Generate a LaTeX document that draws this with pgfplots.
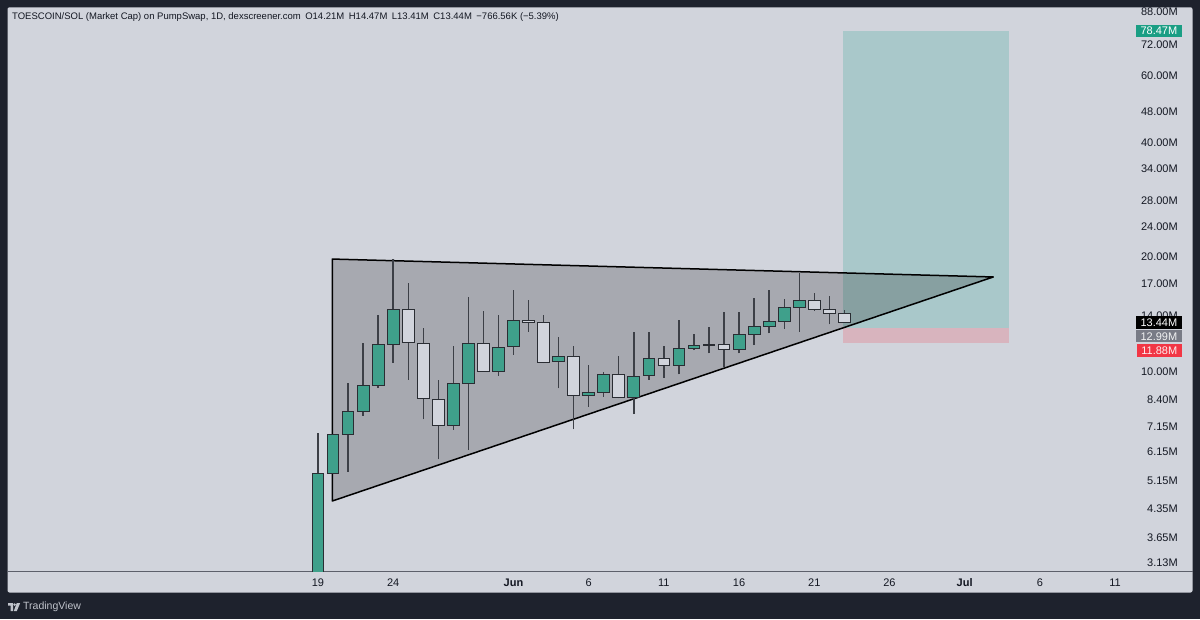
\documentclass[border=0pt]{standalone}
\usepackage{pgfplots}
\pgfplotsset{compat=1.18}
\usepackage{pgfplotstable}
\usepackage{fontspec}
\setmainfont{Liberation Sans}
\definecolor{tvdark}{HTML}{1E222D}
\definecolor{tvpanel}{HTML}{D1D4DC}
\definecolor{tvgreen}{HTML}{3FA08B}
\definecolor{tvtext}{HTML}{131722}
\definecolor{boxgreen}{HTML}{A9C8CA}
\definecolor{boxred}{HTML}{D8B4BE}
\definecolor{tagteal}{HTML}{1A9E84}
\definecolor{taggray}{HTML}{787B86}
\definecolor{tagred}{HTML}{F23645}
\definecolor{wickc}{HTML}{3C3F46}
\definecolor{edgec}{HTML}{2A2D33}
\definecolor{sepline}{HTML}{5D606B}
\definecolor{logoc}{HTML}{C0C3CB}

% OHLC in millions; d = days since 19 May
\pgfplotstableread{
d  o      h      l      c      t
0  2.00   6.89   1.00   5.39   g
1  5.39   6.83   5.39   6.83   g
2  6.83   9.33   5.44   7.83   g
3  7.83   11.84  7.64   9.16   g
4  9.16   14.06  9.05   11.77  g
5  11.77  19.70  10.53  14.55  g
6  14.55  17.09  9.49   11.89  w
7  11.84  12.97  7.48   8.49   w
8  8.45   9.49   5.87   7.22   w
9  7.22   11.65  7.01   9.30   g
10 9.30   15.70  6.21   11.84  g
11 11.84  14.40  9.97   9.97   w
12 9.97   14.06  9.74   11.56  g
13 11.60  16.35  11.04  13.64  g
14 13.64  15.39  12.71  13.45  w
15 13.43  14.06  10.50  10.56  w
16 10.60  12.33  9.02   10.97  g
17 10.97  11.65  7.04   8.66   w
18 8.66   10.39  8.07   8.78   g
19 8.80   9.97   8.57   9.84   g
20 9.84   10.97  8.49   8.54   w
21 8.54   12.66  7.72   9.72   g
22 9.74   12.68  9.49   10.82  g
23 10.82  11.67  9.62   10.34  w
24 10.34  13.64  9.82   11.49  g
25 11.49  12.53  11.37  11.70  g
26 11.70  13.05  11.15  11.74  g
27 11.77  14.29  10.28  11.44  w
28 11.44  14.32  11.15  12.51  g
29 12.51  15.61  11.72  13.15  g
30 13.15  16.35  12.58  13.55  g
31 13.55  15.46  12.92  14.73  g
32 14.73  18.16  12.71  15.39  g
33 15.39  16.09  14.43  14.55  w
34 14.55  15.77  13.29  14.20  w
35 14.21  14.47  13.41  13.44  w
}\ohlc

\begin{document}
\begin{tikzpicture}[x=1pt,y=1pt]
% frame and panel
\fill[tvdark] (0,0) rectangle (1200,619);
\fill[tvpanel, rounded corners=2pt] (7.5,26.5) rectangle (1192.5,611.7);
\draw[sepline, line width=0.9pt] (7.5,47.3) -- (1192.5,47.3);

\begin{axis}[
  at={(8pt,47.3pt)}, anchor=south west,
  scale only axis, width=1184pt, height=563.7pt,
  xmin=-20.612, xmax=58.112,
  ymode=log, ymin=2.973, ymax=90.16,
  axis line style={draw=none},
  major tick length=0pt, tick style={draw=none},
  clip mode=individual,
  xtick={0,5,13,18,23,28,33,38,43,48,53},
  xticklabels={19,24,\textbf{Jun},6,11,16,21,26,\textbf{Jul},6,11},
  ytick={3.13,3.65,4.35,5.15,6.15,7.15,8.40,10,14,17,20,24,28,34,40,48,60,72,88},
  yticklabels={3.13M,3.65M,4.35M,5.15M,6.15M,7.15M,8.40M,10.00M,14.00M,17.00M,20.00M,24.00M,28.00M,34.00M,40.00M,48.00M,60.00M,72.00M,88.00M},
  yticklabel pos=right,
  yticklabel style={anchor=east, inner sep=0pt, xshift=-14pt, font=\fontsize{11}{13}\selectfont, text=tvtext},
  xticklabel style={anchor=base, inner sep=0pt, yshift=-15.3pt, font=\fontsize{11}{13}\selectfont, text=tvtext},
  wick/.style={draw=wickc, line width=1.4pt},
  bodyg/.style={fill=tvgreen, draw=edgec, line width=0.9pt},
  bodyw/.style={fill=tvpanel, draw=edgec, line width=0.9pt},
]
% position box
\addplot[fill=boxgreen, draw=none] coordinates {(34.93,12.99) (45.96,12.99) (45.96,78.47) (34.93,78.47)} --cycle;
\addplot[fill=boxred, draw=none] coordinates {(34.93,11.88) (45.96,11.88) (45.96,12.99) (34.93,12.99)} --cycle;
% triangle
\addplot[fill=black, fill opacity=0.2, draw=black, line width=1.5pt, line join=round] coordinates {(0.95,19.73) (44.9,17.70) (0.95,4.56)} --cycle;
% candles
\pgfplotsinvokeforeach{0,...,35}{%
  \pgfplotstablegetelem{#1}{d}\of\ohlc \let\cd\pgfplotsretval
  \pgfplotstablegetelem{#1}{o}\of\ohlc \let\co\pgfplotsretval
  \pgfplotstablegetelem{#1}{h}\of\ohlc \let\ch\pgfplotsretval
  \pgfplotstablegetelem{#1}{l}\of\ohlc \let\cl\pgfplotsretval
  \pgfplotstablegetelem{#1}{c}\of\ohlc \let\cc\pgfplotsretval
  \pgfplotstablegetelem{#1}{t}\of\ohlc \let\ct\pgfplotsretval
  \pgfmathsetmacro\xl{\cd-0.39}%
  \pgfmathsetmacro\xr{\cd+0.39}%
  \edef\candle{%
    \noexpand\addplot[wick] coordinates {(\cd,\cl) (\cd,\ch)};
    \noexpand\addplot[body\ct] coordinates {(\xl,\co) (\xr,\co) (\xr,\cc) (\xl,\cc)} --cycle;
  }\candle
}
\coordinate (t1) at (axis cs:58.112,78.47);
\coordinate (t2) at (axis cs:58.112,13.44);
\coordinate (t3) at (axis cs:58.112,12.99);
\coordinate (t4) at (axis cs:58.112,11.88);
\end{axis}

% price tags
\tikzset{tag/.style={anchor=east, xshift=-10pt, inner xsep=4.5pt, inner ysep=0pt, minimum height=12.5pt, text height=8pt, text depth=0pt, font=\fontsize{11}{13}\selectfont}}
\node[tag, fill=tagteal, text=white] at (t1) {78.47M};
\node[tag, fill=black, text=white] at (t2) {13.44M};
\node[tag, fill=taggray, text=white!90!taggray, yshift=-8pt] at (t3) {12.99M};
\node[tag, fill=tagred, text=white!92!tagred, yshift=-7.7pt] at (t4) {11.88M};

% title
\node[anchor=west, inner sep=0pt, text=tvtext, font=\fontsize{9.5}{11}\selectfont] at (12,601.5)
  {TOESCOIN/SOL (Market Cap) on PumpSwap, 1D, dexscreener.com\hspace{4.5pt}O14.21M\hspace{4.5pt}H14.47M\hspace{4.5pt}L13.41M\hspace{4.5pt}C13.44M\hspace{4.5pt}−766.56K (−5.39\%)};

% TradingView logo
\fill[logoc] (8,16) -- (13,16) -- (13,8) -- (10.5,8) -- (10.5,13.5) -- (8,13.5) -- cycle;
\fill[logoc] (14.6,14.4) circle (1.4);
\fill[logoc] (16.8,16) -- (20.2,16) -- (16.8,8) -- (13.8,8) -- cycle;
\node[anchor=west, inner sep=0pt, text=logoc, font=\fontsize{10.5}{12}\selectfont] at (23,12) {TradingView};
\end{tikzpicture}
\end{document}
